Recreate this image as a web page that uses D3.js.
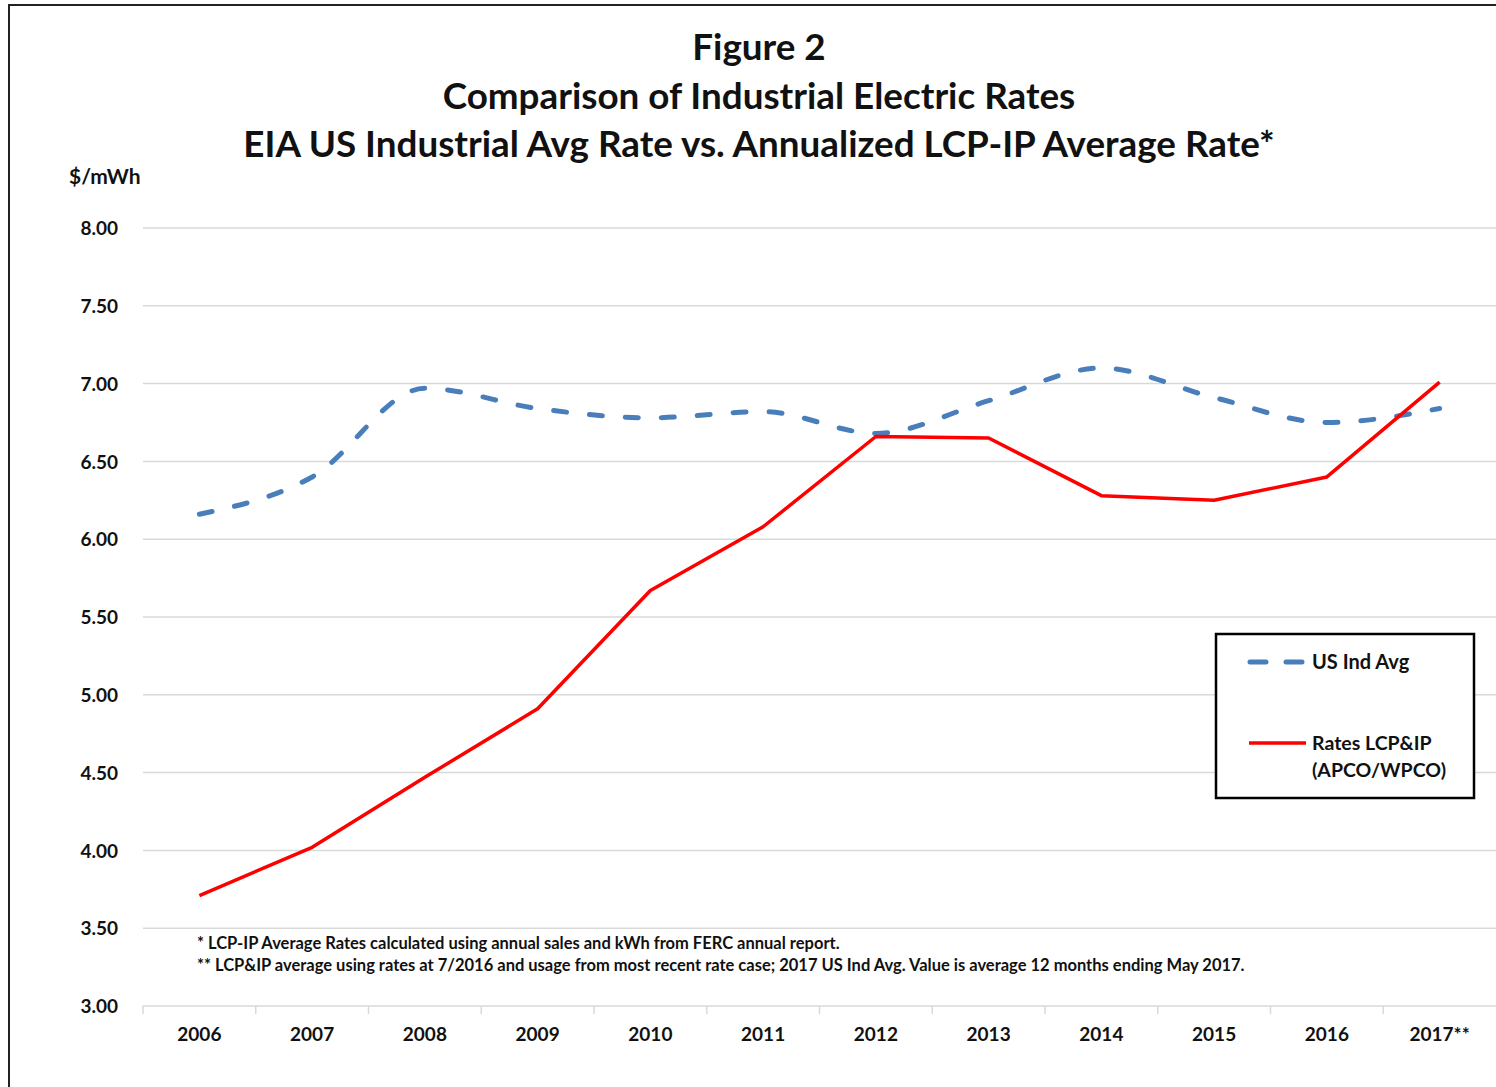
<!DOCTYPE html>
<html>
<head>
<meta charset="utf-8">
<script src="https://cdn.jsdelivr.net/npm/d3@7"></script>
<style>
  html, body { margin: 0; padding: 0; background: #fff; }
  svg { display: block; }
  text { font-family: Lato, "Open Sans", sans-serif; font-weight: bold; fill: #111; }
</style>
</head>
<body>
<svg id="chart" width="1496" height="1087"></svg>
<script>
// Rates in $/mWh, 2006 through 2017
const years = ["2006", "2007", "2008", "2009", "2010", "2011", "2012", "2013", "2014", "2015", "2016", "2017**"];
const usIndAvg = [6.16, 6.40, 6.97, 6.84, 6.78, 6.82, 6.68, 6.89, 7.10, 6.91, 6.75, 6.84];
const lcpIpRates = [3.71, 4.02, 4.47, 4.91, 5.67, 6.08, 6.66, 6.65, 6.28, 6.25, 6.40, 7.01];
const yTicks = [3.00, 3.50, 4.00, 4.50, 5.00, 5.50, 6.00, 6.50, 7.00, 7.50, 8.00];
const titleLines = [
  "Figure 2",
  "Comparison of Industrial Electric Rates",
  "EIA US Industrial Avg Rate vs. Annualized LCP-IP Average Rate*"
];
const footnotes = [
  "* LCP-IP Average Rates calculated using annual sales and kWh from FERC annual report.",
  "** LCP&IP average using rates at 7/2016 and usage from most recent rate case; 2017 US Ind Avg. Value is average 12 months ending May 2017."
];
const seriesNames = ["US Ind Avg", "Rates LCP&IP", "(APCO/WPCO)"];

const svg = d3.select("#chart");

// frame around the figure
svg.append("rect")
  .attr("x", 9).attr("y", 5).attr("width", 1500).attr("height", 1100)
  .attr("fill", "none").attr("stroke", "#222").attr("stroke-width", 2);

const plot = { left: 143, right: 1496, top: 228, bottom: 1006 };

const x = d3.scaleBand().domain(years).range([plot.left, plot.right]).padding(0);
const y = d3.scaleLinear().domain([3, 8]).range([plot.bottom, plot.top]);

// gridlines
svg.append("g")
  .selectAll("line")
  .data(yTicks.slice(1))
  .join("line")
  .attr("x1", plot.left).attr("x2", plot.right)
  .attr("y1", d => y(d)).attr("y2", d => y(d))
  .attr("stroke", "#d9d9d9").attr("stroke-width", 1.5);

// y axis labels
const yAxis = d3.axisLeft(y).tickValues(yTicks).tickFormat(d3.format(".2f")).tickSize(0).tickPadding(25);
const gy = svg.append("g").attr("transform", `translate(${plot.left},0)`).call(yAxis);
gy.select(".domain").remove();
gy.selectAll("text").attr("font-size", 19).attr("dy", "0.35em").style("font-family", "Lato, sans-serif").style("font-weight", "bold").attr("fill", "#111");

// x axis with category boundary ticks
const gx = svg.append("g").attr("transform", `translate(0,${plot.bottom})`);
gx.append("line").attr("x1", plot.left).attr("x2", plot.right)
  .attr("stroke", "#d9d9d9").attr("stroke-width", 1.5);
gx.selectAll("line.tick")
  .data(years)
  .join("line")
  .attr("class", "tick")
  .attr("x1", d => x(d)).attr("x2", d => x(d))
  .attr("y1", 0).attr("y2", 8)
  .attr("stroke", "#d9d9d9").attr("stroke-width", 1.5);
gx.selectAll("text")
  .data(years)
  .join("text")
  .attr("x", d => x(d) + x.bandwidth() / 2)
  .attr("y", 35)
  .attr("text-anchor", "middle")
  .attr("font-size", 19)
  .text(d => d);

const cx = d => x(d) + x.bandwidth() / 2;

// US industrial average: smoothed dashed line
const blueLine = d3.line()
  .x((d, i) => cx(years[i]))
  .y(d => y(d))
  .curve(d3.curveMonotoneX);
svg.append("path")
  .attr("d", blueLine(usIndAvg))
  .attr("fill", "none")
  .attr("stroke", "#4a7ebb")
  .attr("stroke-width", 5)
  .attr("stroke-linecap", "round")
  .attr("stroke-dasharray", "13 23");

// LCP&IP rates: straight solid line
const redLine = d3.line()
  .x((d, i) => cx(years[i]))
  .y(d => y(d));
svg.append("path")
  .attr("d", redLine(lcpIpRates))
  .attr("fill", "none")
  .attr("stroke", "#ff0000")
  .attr("stroke-width", 3.5)
  .attr("stroke-linejoin", "round");

// titles
svg.append("g").selectAll("text")
  .data(titleLines)
  .join("text")
  .attr("x", 759)
  .attr("y", (d, i) => 60 + i * 48.5)
  .attr("text-anchor", "middle")
  .attr("font-size", 36.8)
  .text(d => d);

// unit label
svg.append("text").attr("x", 69).attr("y", 184).attr("font-size", 21).text("$/mWh");

// footnotes
svg.append("g").selectAll("text")
  .data(footnotes)
  .join("text")
  .attr("x", 197)
  .attr("y", (d, i) => 949 + i * 22)
  .attr("font-size", 16.5)
  .text(d => d);

// legend
const lg = svg.append("g");
lg.append("rect")
  .attr("x", 1216).attr("y", 634).attr("width", 258).attr("height", 164)
  .attr("fill", "#fff").attr("stroke", "#000").attr("stroke-width", 2.5);
lg.append("line")
  .attr("x1", 1250).attr("x2", 1302).attr("y1", 662).attr("y2", 662)
  .attr("stroke", "#4a7ebb").attr("stroke-width", 5)
  .attr("stroke-linecap", "round").attr("stroke-dasharray", "16 20");
lg.append("line")
  .attr("x1", 1249).attr("x2", 1306).attr("y1", 743).attr("y2", 743)
  .attr("stroke", "#ff0000").attr("stroke-width", 3.5);
lg.append("text").attr("x", 1312).attr("y", 669).attr("font-size", 20).text(seriesNames[0]);
lg.append("text").attr("x", 1312).attr("y", 750).attr("font-size", 19.5).text(seriesNames[1]);
lg.append("text").attr("x", 1312).attr("y", 777).attr("font-size", 19.5).text(seriesNames[2]);
</script>
</body>
</html>
